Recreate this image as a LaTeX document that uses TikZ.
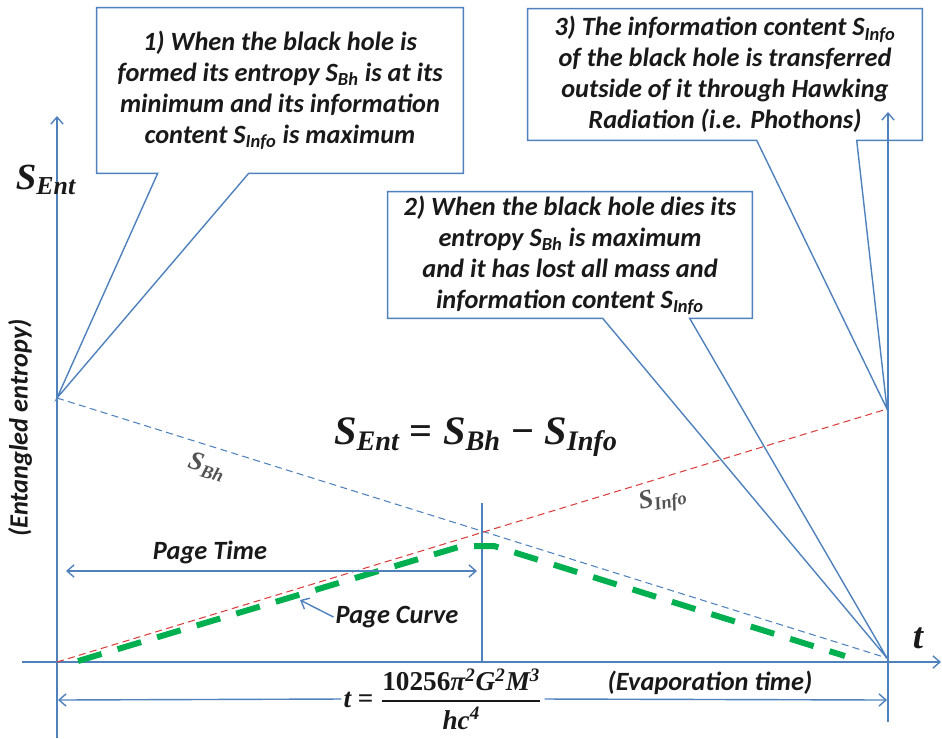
\documentclass[tikz,border=0pt]{standalone}
\usepackage{fontspec}
\setmainfont{Carlito}
\newfontfamily\formfont{Liberation Serif}
\usepackage{amsmath}
\usetikzlibrary{arrows.meta,calc,positioning}
\definecolor{axisblue}{RGB}{79,129,189}
\definecolor{infored}{RGB}{218,62,62}
\definecolor{curvegreen}{RGB}{0,176,80}
\definecolor{textdark}{RGB}{25,25,25}
\tikzset{
    % Box styles
    note box/.style={
        inner sep=0pt,
        align=center,
        text=textdark,
        font=\bfseries\itshape\fontsize{15}{17.6}\selectfont
    },
    note line/.style={
        draw=axisblue,
        line width=0.8pt,
        line join=miter
    },
    % Label styles
    plain label/.style={
        inner sep=1pt,
        text=textdark,
        font=\bfseries\itshape\fontsize{15}{18}\selectfont
    },
    math label/.style={
        inner sep=1pt,
        text=textdark,
        font=\formfont\bfseries\itshape\fontsize{21}{25}\selectfont
    },
    line label/.style={
        inner sep=1pt,
        text=textdark!75,
        font=\formfont\bfseries\itshape\fontsize{15}{18}\selectfont
    },
    % Line styles
    axis line/.style={
        draw=axisblue,
        line width=0.8pt,
        >={Straight Barb[length=4pt,width=7pt]}
    },
    bh line/.style={
        draw=axisblue,
        line width=0.6pt,
        dash pattern=on 4pt off 2.5pt
    },
    info line/.style={
        draw=infored,
        line width=0.6pt,
        dash pattern=on 4pt off 2.5pt
    },
    page curve/.style={
        draw=curvegreen,
        line width=3.4pt,
        dash pattern=on 14pt off 9.5pt
    }
}
\newcommand{\lowtxt}[1]{\textsubscript{#1}}
\newcommand{\hightxt}[1]{\textsuperscript{#1}}

\begin{document}
\begin{tikzpicture}[x=0.02cm, y=-0.02cm]
    \useasboundingbox (0,0) rectangle (942,738);

    % reference points
    \coordinate (origin) at (57,662);
    \coordinate (yTop) at (57,116);
    \coordinate (yBot) at (57,738);
    \coordinate (xLeft) at (22,662);
    \coordinate (xRight) at (941,662);
    \coordinate (eTop) at (888,112);
    \coordinate (eBot) at (888,722);
    \coordinate (bhStart) at (57,398);
    \coordinate (bhEnd) at (887,658);
    \coordinate (infoEnd) at (887,409);
    \coordinate (pageTop) at (482,503);
    \coordinate (pageBot) at (482,662);
    \coordinate (ptLeft) at (66,571);
    \coordinate (ptRight) at (477,571);
    \coordinate (pcTip) at (300,600);
    \coordinate (evLeft) at (58,700);
    \coordinate (evRight) at (887,700);

    % axes
    \draw[axis line,->] (yBot) -- (yTop);
    \draw[axis line,->] (xLeft) -- (xRight);
    \draw[axis line,->] (eBot) -- (eTop);
    \draw[axis line] (pageBot) -- (pageTop);

    % entropy lines
    \draw[bh line] (bhStart) -- (bhEnd);
    \draw[info line] (origin) -- (infoEnd);
    \draw[page curve] (78,661) -- (462,546) -- (494,546) -- (845,656);

    % labels
    \node[math label] (sEnt) at (46,180) {S\lowtxt{Ent}};
    \node[plain label, rotate=90] (entLabel) at (20,428) {(Entangled entropy)};
    \node[math label] (tLabel) at (918,638) {t};
    \node[math label, font=\formfont\bfseries\itshape\fontsize{23}{27}\selectfont] (sForm) at (476,437)
        {S\lowtxt{Ent} {\upshape =} S\lowtxt{Bh} {\upshape −} S\lowtxt{Info}};
    \node[line label, rotate=-17] (sBh) at (207,467) {S\lowtxt{Bh}};
    \node[line label, rotate=12] (sInfo) at (663,500) {S\lowtxt{Info}};
    \node[plain label] (pageTime) at (210,552) {Page Time};
    \node[plain label] (pageCurve) at (397,617) {Page Curve};
    \node[plain label] (evapTime) at (710,683) {(Evaporation time)};
    \node[math label, font=\formfont\bfseries\itshape\fontsize{15.5}{18}\selectfont] (tForm) at (443,699)
        {t {\upshape =} $\genfrac{}{}{1pt}{0}{\text{{\upshape 10256}π\hightxt{2}G\hightxt{2}M\hightxt{3}}}{\text{hc\hightxt{4}}}$};

    % arrows
    \draw[axis line,<->] (ptLeft) -- (ptRight);
    \draw[axis line,->] (pageCurve.west) -- (pcTip);
    \draw[axis line,->] (tForm.west) -- (evLeft);
    \draw[axis line,->] (tForm.east) -- (evRight);

    % callouts
    \node[note box, minimum width=7.32cm, minimum height=3.3cm] (note1) at (280,90.5)
        {1) When the black hole is\\
         formed its entropy S\lowtxt{Bh} is at its\\
         minimum and its information\\
         content S\lowtxt{Info} is maximum};
    \node[note box, minimum width=7.28cm, minimum height=2.52cm] (note2) at (570,255)
        {2) When the black hole dies its\\
         entropy S\lowtxt{Bh} is maximum\\
         and it has lost all mass and\\
         information content S\lowtxt{Info}};
    \node[note box, minimum width=7.88cm, minimum height=2.62cm] (note3) at (725,74.5)
        {3) The information content S\lowtxt{Info}\\
         of the black hole is transferred\\
         outside of it through Hawking\\
         Radiation (i.e. Phothons)};

    \draw[note line] (note1.south west) -- (note1.north west) -- (note1.north east)
        -- (note1.south east) -- ($(note1.south west)+(152,0)$) -- (bhStart)
        -- ($(note1.south west)+(61,0)$) -- cycle;
    \draw[note line] (note2.south west) -- (note2.north west) -- (note2.north east)
        -- (note2.south east) -- ($(note2.south west)+(302,0)$) -- (bhEnd)
        -- ($(note2.south west)+(215,0)$) -- cycle;
    \draw[note line] (note3.south west) -- (note3.north west) -- (note3.north east)
        -- (note3.south east) -- ($(note3.south west)+(329,0)$) -- (infoEnd)
        -- ($(note3.south west)+(229,0)$) -- cycle;
\end{tikzpicture}
\end{document}
